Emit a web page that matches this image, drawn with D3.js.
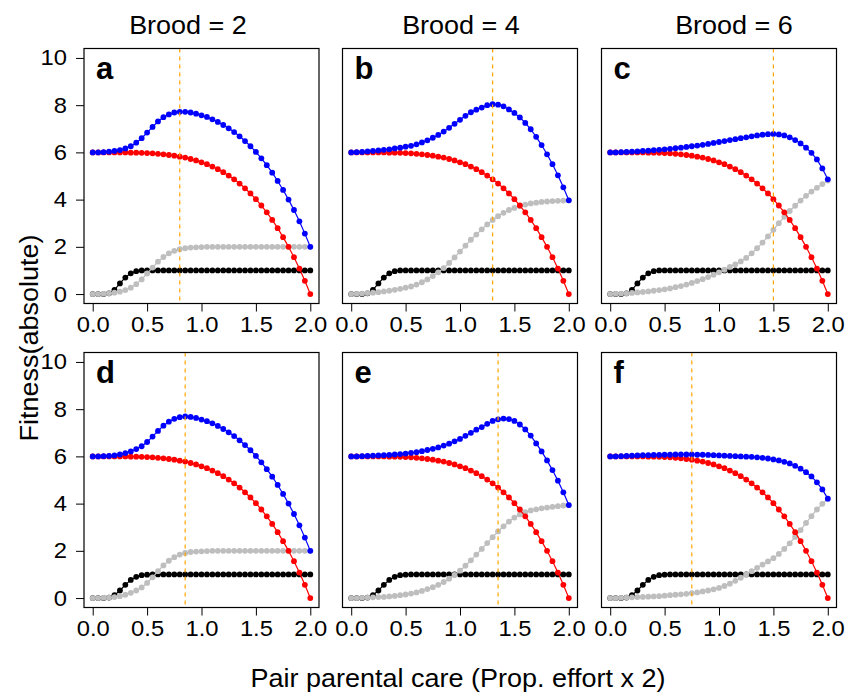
<!DOCTYPE html>
<meta charset="utf-8">
<style>
  body { margin: 0; background: #fff; }
  text { font-family: "Liberation Sans", Arial, Helvetica, sans-serif; }
</style>
<body>
<div id="chart"></div>
<script src="https://d3js.org/d3.v7.min.js"></script>
<script>

// pair parental care (x), 41 points
var careValues = [0,0.05,0.1,0.15,0.2,0.25,0.3,0.35,0.4,0.45,
  0.5,0.55,0.6,0.65,0.7,0.75,0.8,0.85,0.9,0.95,
  1,1.05,1.1,1.15,1.2,1.25,1.3,1.35,1.4,1.45,
  1.5,1.55,1.6,1.65,1.7,1.75,1.8,1.85,1.9,1.95,2];

// red: same in every panel
var redValues = [6.00,6.00,6.00,6.00,6.00,6.00,6.00,5.99,5.99,5.98,
  5.97,5.96,5.94,5.92,5.89,5.86,5.82,5.78,5.72,5.66,
  5.58,5.50,5.40,5.29,5.16,5.02,4.86,4.68,4.48,4.26,
  4.02,3.75,3.46,3.14,2.79,2.41,2.00,1.56,1.08,0.56,0.00];

var blackTop = [0,0,0,0.03,0.18,0.45,0.70,0.88,0.97,1,
  1,1,1,1,1,1,1,1,1,1, 1,1,1,1,1,1,1,1,1,1, 1,1,1,1,1,1,1,1,1,1, 1];
var blackBottom = [0,0,0,0.02,0.12,0.32,0.56,0.77,0.90,0.97,
  0.99,1,1,1,1,1,1,1,1,1, 1,1,1,1,1,1,1,1,1,1, 1,1,1,1,1,1,1,1,1,1, 1];

var grayA = [0,0,0.01,0.03,0.06,0.10,0.17,0.27,0.42,0.62,
  0.87,1.12,1.37,1.57,1.72,1.83,1.90,1.94,1.97,1.98,
  1.99,2,2,2,2,2,2,2,2,2, 2,2,2,2,2,2,2,2,2,2, 2];
var blueA = [6.00,6.00,6.01,6.03,6.06,6.10,6.17,6.26,6.41,6.60,
  6.84,7.08,7.31,7.49,7.61,7.69,7.72,7.72,7.69,7.64,
  7.57,7.50,7.40,7.29,7.16,7.02,6.86,6.68,6.48,6.26,
  6.02,5.75,5.46,5.14,4.79,4.41,4.00,3.56,3.08,2.56,2.00];

var grayB = [0,0.01,0.02,0.04,0.06,0.08,0.11,0.14,0.18,0.22,
  0.27,0.32,0.40,0.50,0.62,0.76,0.92,1.10,1.32,1.55,
  1.80,2.05,2.30,2.52,2.74,2.95,3.14,3.30,3.44,3.56,
  3.65,3.73,3.79,3.84,3.87,3.90,3.92,3.94,3.95,3.96,3.97];
var blueB = [6.00,6.01,6.02,6.04,6.06,6.08,6.11,6.13,6.17,6.20,
  6.24,6.28,6.34,6.42,6.51,6.62,6.74,6.88,7.04,7.21,
  7.38,7.55,7.70,7.81,7.90,8.00,8.04,8.02,7.95,7.82,
  7.67,7.48,7.25,6.98,6.66,6.31,5.92,5.50,5.03,4.52,3.97];

var grayC = [0,0.01,0.02,0.03,0.05,0.07,0.09,0.11,0.14,0.17,
  0.20,0.24,0.29,0.34,0.40,0.47,0.55,0.63,0.72,0.82,
  0.92,1.03,1.15,1.26,1.38,1.53,1.72,1.94,2.18,2.44,
  2.72,3.00,3.27,3.52,3.74,3.96,4.16,4.34,4.50,4.66,4.81];
var blueC = [6.00,6.00,6.01,6.02,6.03,6.04,6.06,6.07,6.09,6.11,
  6.13,6.15,6.18,6.20,6.23,6.26,6.29,6.32,6.36,6.40,
  6.44,6.48,6.52,6.56,6.60,6.64,6.68,6.72,6.75,6.77,
  6.78,6.76,6.72,6.64,6.52,6.38,6.20,5.98,5.70,5.32,4.86];

var grayD = [0,0,0.01,0.02,0.04,0.08,0.14,0.22,0.32,0.45,
  0.64,0.88,1.14,1.38,1.58,1.73,1.84,1.91,1.95,1.97,
  1.98,1.99,2,2,2,2,2,2,2,2, 2,2,2,2,2,2,2,2,2,2, 2];
var blueD = [6.00,6.00,6.01,6.02,6.04,6.08,6.14,6.21,6.31,6.43,
  6.61,6.84,7.08,7.30,7.47,7.59,7.66,7.69,7.67,7.63,
  7.56,7.49,7.40,7.29,7.16,7.02,6.86,6.68,6.48,6.26,
  6.02,5.75,5.46,5.14,4.79,4.41,4.00,3.56,3.08,2.56,2.00];

var grayE = [0,0,0.01,0.02,0.03,0.04,0.05,0.07,0.09,0.12,
  0.15,0.19,0.24,0.30,0.38,0.46,0.56,0.68,0.82,0.98,
  1.16,1.37,1.60,1.84,2.08,2.33,2.58,2.82,3.04,3.24,
  3.41,3.54,3.64,3.71,3.76,3.80,3.83,3.86,3.89,3.92,3.94];
var blueE = [6.00,6.00,6.01,6.02,6.03,6.04,6.05,6.06,6.08,6.10,
  6.12,6.15,6.18,6.22,6.27,6.32,6.38,6.46,6.54,6.64,
  6.74,6.87,7.00,7.13,7.24,7.38,7.50,7.57,7.60,7.58,
  7.50,7.35,7.14,6.88,6.55,6.21,5.83,5.42,4.97,4.48,3.94];

var grayF = [0,0,0.01,0.02,0.03,0.04,0.05,0.06,0.07,0.08,
  0.10,0.12,0.14,0.16,0.18,0.21,0.24,0.28,0.32,0.37,
  0.43,0.51,0.61,0.73,0.86,1.00,1.14,1.28,1.42,1.55,
  1.69,1.87,2.08,2.32,2.59,2.88,3.18,3.47,3.75,3.99,4.21];
var blueF = [6.00,6.00,6.01,6.02,6.03,6.04,6.05,6.05,6.06,6.06,
  6.07,6.07,6.08,6.08,6.08,6.08,6.07,6.07,6.06,6.05,
  6.04,6.03,6.02,6.01,6.00,5.99,5.98,5.96,5.94,5.91,
  5.87,5.83,5.77,5.70,5.60,5.48,5.33,5.15,4.90,4.60,4.21];

var optimum = [0.8, 1.3, 1.5, 0.85, 1.35, 0.75];
var panelLetters = ["a", "b", "c", "d", "e", "f"];
var broodTitles = ["Brood = 2", "Brood = 4", "Brood = 6"];
var xTicks = [0, 0.5, 1, 1.5, 2];
var yTicks = [0, 2, 4, 6, 8, 10];

var panels = [
  {gray: grayA, blue: blueA, black: blackTop},
  {gray: grayB, blue: blueB, black: blackTop},
  {gray: grayC, blue: blueC, black: blackTop},
  {gray: grayD, blue: blueD, black: blackBottom},
  {gray: grayE, blue: blueE, black: blackBottom},
  {gray: grayF, blue: blueF, black: blackBottom}
];

var W = 845, H = 697;
var boxW = 235, boxH = 255;
var colLeft = [84, 342.5, 601.5];
var rowTop = [48.5, 352.5];
var titleX = [188, 461, 734];
var stretch = "scale(1.08,1)";   // reference glyphs run a bit wider than Arial

var svg = d3.select("#chart").append("svg")
  .attr("width", W)
  .attr("height", H);

svg.append("rect").attr("width", W).attr("height", H).attr("fill", "#fff");

// R style 4% padding on both axes
var x = d3.scaleLinear().domain([-0.08, 2.08]).range([0, boxW]);
var y = d3.scaleLinear().domain([-0.4, 10.4]).range([boxH, 0]);

var line = d3.line()
  .x(function(d) { return x(d[0]); })
  .y(function(d) { return y(d[1]); });

panels.forEach(function(p, i) {
  var col = i % 3, row = Math.floor(i / 3);
  var g = svg.append("g")
    .attr("transform", "translate(" + colLeft[col] + "," + rowTop[row] + ")");

  // x axis
  var xa = g.append("g")
    .attr("transform", "translate(0," + boxH + ")")
    .call(d3.axisBottom(x).tickValues(xTicks).tickFormat(d3.format(".1f"))
      .tickSize(8).tickSizeOuter(0).tickPadding(5));
  xa.select(".domain").remove();
  xa.selectAll("text").attr("font-size", 22).attr("fill", "#000")
    .attr("transform", stretch)
    .style("font-family", '"Liberation Sans", Arial, sans-serif');
  xa.selectAll("line").attr("stroke", "#000");

  if (col === 0) {
    var ya = g.append("g")
      .call(d3.axisLeft(y).tickValues(yTicks).tickSize(8).tickSizeOuter(0).tickPadding(9));
    ya.select(".domain").remove();
    ya.selectAll("text").attr("font-size", 22).attr("fill", "#000")
      .attr("x", -17 / 1.08)
      .attr("transform", stretch)
      .style("font-family", '"Liberation Sans", Arial, sans-serif');
    ya.selectAll("line").attr("stroke", "#000");
  }

  var series = [
    {vals: p.black, color: "#000000"},
    {vals: p.gray, color: "#BEBEBE"},
    {vals: redValues, color: "#FF0000"},
    {vals: p.blue, color: "#0000FF"}
  ];

  series.forEach(function(s) {
    var pts = careValues.map(function(c, k) { return [c, s.vals[k]]; });
    g.append("path")
      .datum(pts)
      .attr("d", line)
      .attr("fill", "none")
      .attr("stroke", s.color)
      .attr("stroke-width", 1.2);
    g.selectAll(null)
      .data(pts)
      .enter().append("circle")
      .attr("cx", function(d) { return x(d[0]); })
      .attr("cy", function(d) { return y(d[1]); })
      .attr("r", 2.9)
      .attr("fill", s.color);
  });

  // optimum line
  g.append("line")
    .attr("x1", x(optimum[i])).attr("x2", x(optimum[i]))
    .attr("y1", 0).attr("y2", boxH)
    .attr("stroke", "#FFA500")
    .attr("stroke-width", 1.2)
    .attr("stroke-dasharray", "4,4");

  g.append("rect")
    .attr("width", boxW).attr("height", boxH)
    .attr("fill", "none").attr("stroke", "#000").attr("stroke-width", 1.2);

  g.append("text")
    .attr("x", 12).attr("y", 30)
    .attr("font-size", 31).attr("font-weight", "bold")
    .text(panelLetters[i]);
});

broodTitles.forEach(function(t, k) {
  svg.append("text")
    .attr("transform", "translate(" + titleX[k] + ",34) " + stretch)
    .attr("text-anchor", "middle")
    .attr("font-size", 25)
    .text(t);
});

svg.append("text")
  .attr("transform", "translate(458,687) " + stretch)
  .attr("text-anchor", "middle")
  .attr("font-size", 25)
  .text("Pair parental care (Prop. effort x 2)");

svg.append("text")
  .attr("transform", "translate(38,338) rotate(-90) " + stretch)
  .attr("text-anchor", "middle")
  .attr("font-size", 25)
  .text("Fitness(absolute)");

</script>
</body>
